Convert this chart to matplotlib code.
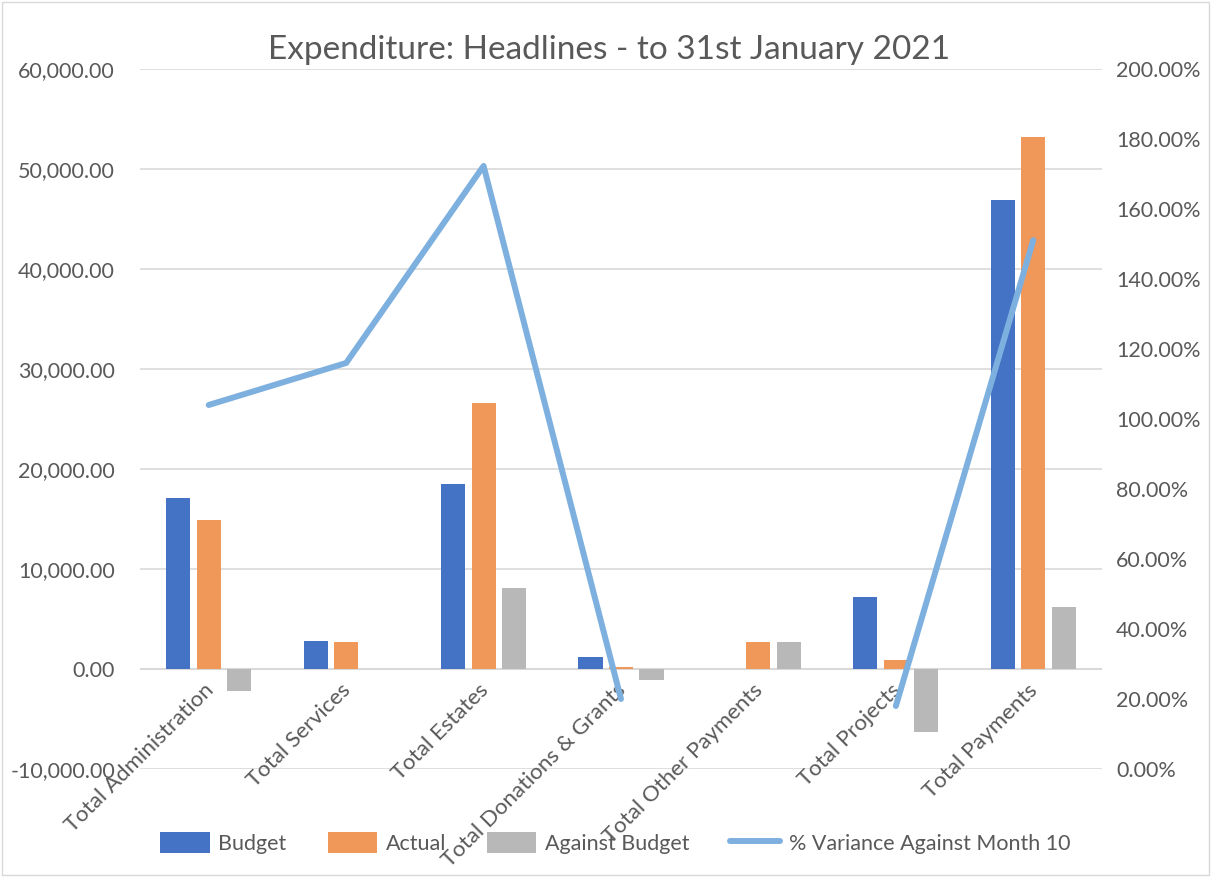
import numpy as np
import matplotlib.pyplot as plt
from matplotlib.ticker import FuncFormatter
from matplotlib.patches import Rectangle

categories = ["Total Administration", "Total Services", "Total Estates",
              "Total Donations & Grants", "Total Other Payments",
              "Total Projects", "Total Payments"]
budget = [17130, 2840, 18500, 1240, 0, 7240, 46940]
actual = [14900, 2740, 26570, 170, 2670, 940, 53170]
against_budget = [-2230, 0, 8070, -1070, 2670, -6300, 6230]
pct_variance = [104.0, 116.0, 172.3, 20.0, np.nan, 18.0, 151.1]

plt.rcParams['font.family'] = ['Lato', 'DejaVu Sans']
txt = "#595959"
grid = "#d9d9d9"

fig = plt.figure(figsize=(12.11, 8.77), dpi=100)
fig.patches.append(Rectangle((0.002, 0.002), 0.996, 0.996, transform=fig.transFigure,
                             fill=False, edgecolor=grid, lw=1))
ax = fig.add_axes([140/1211, 108/877, 962/1211, 700/877])
ax2 = ax.twinx()

x = np.arange(len(categories))
w = 0.175
step = 0.222
ax.bar(x - step, budget, w, color="#4472C4", label="Budget", zorder=2)
ax.bar(x, actual, w, color="#F0975A", label="Actual", zorder=2)
ax.bar(x + step, against_budget, w, color="#B8B8B8", label="Against Budget", zorder=2)
ax.axhline(0, color=grid, lw=1.5, zorder=1)

ax2.plot(x, pct_variance, color="#7EB0DF", lw=4.3, solid_capstyle="round",
         solid_joinstyle="round", label="% Variance Against Month 10")

ax.set_xlim(-0.5, len(categories) - 0.5)
ax.set_ylim(-10000, 60000)
ax.set_yticks(np.arange(-10000, 60001, 10000))
ax.yaxis.set_major_formatter(FuncFormatter(lambda v, p: f"{v:,.2f}"))
ax.grid(axis="y", color=grid, lw=1.2, zorder=0)
ax.set_axisbelow(True)
ax2.set_ylim(0, 200)
ax2.set_yticks(np.arange(0, 201, 20))
ax2.yaxis.set_major_formatter(FuncFormatter(lambda v, p: f"{v:.2f}%"))

for a in (ax, ax2):
    for s in a.spines.values():
        s.set_visible(False)
    a.tick_params(length=0, labelsize=15.5, colors=txt)
ax.tick_params(axis="y", pad=18)
ax2.tick_params(axis="y", pad=10)
ax.set_xticks([])

for i, c in enumerate(categories):
    ax.annotate(c, xy=(i, 0), xytext=(-4, -8), textcoords="offset points",
                ha="right", va="top", rotation=45, rotation_mode="anchor",
                fontsize=16, color=txt)

fig.text(0.503, 0.943, "Expenditure: Headlines - to 31st January 2021",
         ha="center", va="center", fontsize=24, color=txt)

h1, l1 = ax.get_legend_handles_labels()
h2, l2 = ax2.get_legend_handles_labels()
fig.legend(h1 + h2, l1 + l2, loc="center", bbox_to_anchor=(0.508, 0.039), ncol=4,
           frameon=False, fontsize=15.5, labelcolor=txt, handlelength=2.3,
           handleheight=1.1, columnspacing=1.9, handletextpad=0.4)

fig.savefig("out.png", dpi=100)
